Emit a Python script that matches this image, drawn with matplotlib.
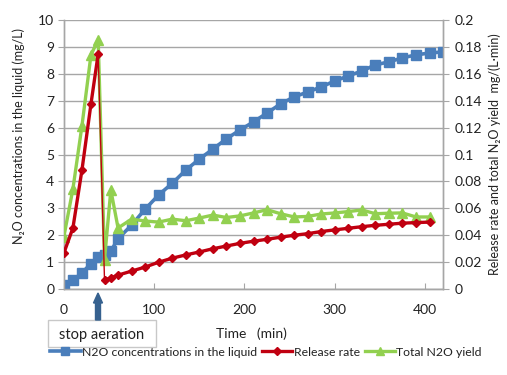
import matplotlib
matplotlib.use("Agg")
import matplotlib.pyplot as plt
from matplotlib.lines import Line2D
from matplotlib.patches import FancyArrow, Rectangle

plt.rcParams['font.family'] = ['Lato', 'DejaVu Sans']

# time (min)
time = [0, 10, 20, 30, 38, 45, 52, 60, 75, 90, 105, 120, 135, 150, 165, 180, 195,
        210, 225, 240, 255, 270, 285, 300, 315, 330, 345, 360, 375, 390, 405, 420]

# N2O concentrations in the liquid (mg/L) - left axis
conc = [0.15, 0.33, 0.6, 0.95, 1.2, 1.25, 1.41, 1.87, 2.38, 2.97, 3.5, 3.93, 4.42, 4.83,
        5.2, 5.58, 5.91, 6.21, 6.54, 6.88, 7.14, 7.32, 7.51, 7.73, 7.92, 8.1, 8.33,
        8.44, 8.59, 8.7, 8.77, 8.81]

# Release rate mg/(L*min) - right axis (ends at 405 min)
release = [0.0268, 0.0454, 0.0884, 0.1376, 0.1748, 0.0066, 0.0084, 0.0104, 0.0134,
           0.0164, 0.0200, 0.0230, 0.0254, 0.0276, 0.0300, 0.0320, 0.0340, 0.0356,
           0.0370, 0.0386, 0.0400, 0.0412, 0.0428, 0.0440, 0.0452, 0.0464, 0.0474,
           0.0482, 0.0490, 0.0494, 0.0498]

# Total N2O yield mg/(L*min) - right axis (ends at 405 min)
total = [0.0390, 0.0744, 0.1212, 0.1740, 0.1852, 0.0220, 0.0736, 0.0454, 0.0520,
         0.0506, 0.0498, 0.0520, 0.0508, 0.0528, 0.0550, 0.0532, 0.0544, 0.0566,
         0.0590, 0.0560, 0.0536, 0.0540, 0.0558, 0.0566, 0.0576, 0.0588, 0.0560,
         0.0564, 0.0566, 0.0536, 0.0536]

left_ticks = list(range(0, 11))
right_ticks = [0, 0.02, 0.04, 0.06, 0.08, 0.1, 0.12, 0.14, 0.16, 0.18, 0.2]
right_labels = ['0', '0.02', '0.04', '0.06', '0.08', '0.1', '0.12', '0.14', '0.16', '0.18', '0.2']
x_ticks = [0, 100, 200, 300, 400]

BLUE = '#4a7ebb'
RED = '#c00010'
GREEN = '#92d050'
GRID = '#a6a6a6'
TXT = '#222222'

fig = plt.figure(figsize=(5.07, 3.75), dpi=100)
ax = fig.add_axes([0.126, 0.229, 0.748, 0.718])
ax2 = ax.twinx()

ax.set_xlim(0, 420)
ax.set_ylim(0, 10)
ax2.set_ylim(0, 0.2)
ax.set_yticks(left_ticks)
ax2.set_yticks(right_ticks)
ax2.set_yticklabels(right_labels)
ax.set_xticks(x_ticks)

ax.grid(axis='y', color=GRID, lw=1.0)
ax.set_axisbelow(True)
for a in (ax, ax2):
    a.spines['top'].set_visible(False)
    for s in ('left', 'right', 'bottom'):
        a.spines[s].set_color(GRID)
        a.spines[s].set_linewidth(1.0)
ax.tick_params(axis='y', length=4, color=GRID, labelsize=10, labelcolor=TXT, pad=3)
ax2.tick_params(axis='y', length=4, color=GRID, labelsize=10, labelcolor=TXT, pad=4)
ax.tick_params(axis='x', direction='in', length=4, color=GRID, labelsize=10,
               labelcolor=TXT, pad=11)

# series
n = len(release)
ax.plot(time, conc, color=BLUE, lw=2.6, marker='s', ms=6.5, zorder=3)
ax2.plot(time[:n], total, color=GREEN, lw=2.4, marker='^', ms=7, zorder=4)
ax2.plot(time[:5], release[:5], color=RED, lw=2.4, marker='D', ms=4, zorder=5)
ax2.plot(time[4:6], release[4:6], color=RED, lw=1.0, zorder=5)
ax2.plot(time[5:n], release[5:], color=RED, lw=2.4, marker='D', ms=4, zorder=5)

ax.set_ylabel('N₂O concentrations in the liquid (mg/L)', fontsize=9, color=TXT, labelpad=7)
ax.yaxis.set_label_coords(-0.103, 0.57)
ax2.set_ylabel('Release rate and total N₂O yield  mg/(L·min)', fontsize=9,
               color=TXT, labelpad=5)

# Time label
fig.text(251 / 507, 1 - 334 / 375, 'Time   (min)', ha='center', va='center',
         fontsize=10, color=TXT)

# stop aeration box and arrow
box = Rectangle((48 / 507, 1 - 347 / 375), 108 / 507, 27 / 375,
                transform=fig.transFigure, fc='white', ec='#c8c8c8', lw=1.0)
fig.patches.append(box)
fig.text(102 / 507, 1 - 335 / 375, 'stop aeration', ha='center', va='center',
         fontsize=10.5, color=TXT)
arrow = FancyArrow(98 / 507, 1 - 320 / 375, 0, 27 / 375, width=5 / 507,
                   head_width=9 / 507, head_length=10 / 375,
                   length_includes_head=True, transform=fig.transFigure,
                   color='#36618f', zorder=10)
fig.patches.append(arrow)

handles = [Line2D([], [], color=BLUE, lw=2.6, marker='s', ms=6),
           Line2D([], [], color=RED, lw=2.4, marker='D', ms=4),
           Line2D([], [], color=GREEN, lw=2.4, marker='^', ms=6)]
labels = ['N2O concentrations in the liquid', 'Release rate', 'Total N2O yield']
fig.legend(handles, labels, loc='center', bbox_to_anchor=(266 / 507, 1 - 352 / 375),
           ncol=3, frameon=False, fontsize=8.8, handlelength=2.5, columnspacing=0.4,
           handletextpad=0.1, labelcolor=TXT, borderaxespad=0, borderpad=0)

fig.savefig('out.png', dpi=100)
